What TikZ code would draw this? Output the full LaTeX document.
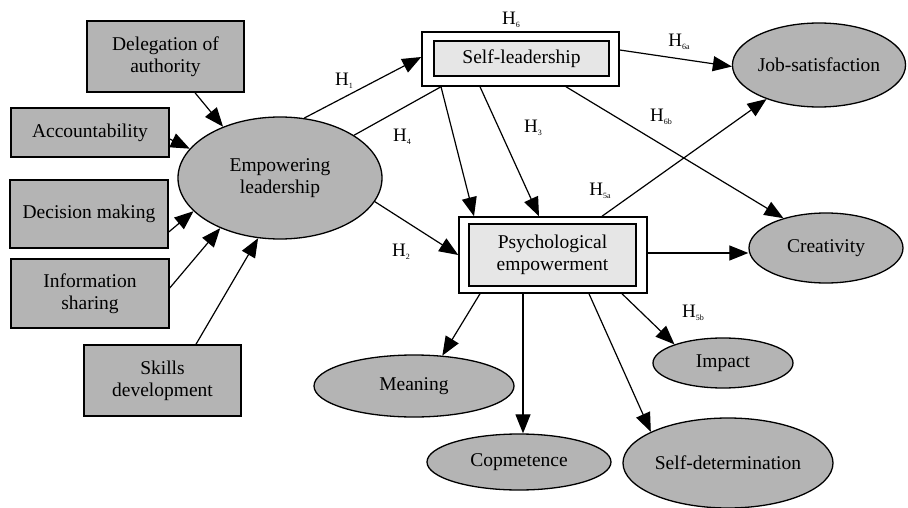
\documentclass[tikz,border=0pt]{standalone}
\usepackage{fontspec}
\setmainfont{Liberation Serif}
\usetikzlibrary{arrows.meta,shapes.geometric}
\definecolor{boxgray}{RGB}{180,180,180}
\definecolor{innergray}{RGB}{230,230,230}
\newcommand{\Hlab}[1]{H\raisebox{-3pt}{\fontsize{8}{8}\selectfont #1}}
\tikzset{
  txt/.style={font=\fontsize{19.5}{22}\selectfont, align=center},
  gbox/.style={txt, draw, line width=1.5pt, fill=boxgray, inner sep=0pt},
  ell/.style={txt, ellipse, draw, line width=1.3pt, fill=boxgray, inner sep=0pt},
  outerbox/.style={draw, line width=1.5pt, fill=white, inner sep=0pt},
  innerbox/.style={txt, draw, line width=1.5pt, fill=innergray, inner sep=0pt},
  conn/.style={line width=1.2pt},
  arr/.style={conn, -{Triangle[length=19pt,width=15pt]}},
  hl/.style={font=\fontsize{19}{19}\selectfont, inner sep=0pt}
}
\begin{document}
\begin{tikzpicture}[x=1pt,y=-1pt]
\useasboundingbox (0,0) rectangle (908,508);
% left boxes
\node[gbox, minimum width=157pt, minimum height=71pt] (DA) at (165.5,56.5) {Delegation of\\authority};
\node[gbox, minimum width=158pt, minimum height=49pt] (AC) at (90,132.5) {Accountability};
\node[gbox, minimum width=158pt, minimum height=68pt] (DM) at (89,214) {Decision making};
\node[gbox, minimum width=158pt, minimum height=69pt] (IS) at (90,293.5) {Information\\sharing};
\node[gbox, minimum width=157pt, minimum height=71pt] (SD0) at (162.5,380.5) {Skills\\development};
% empowering leadership
\node[ell, minimum width=204pt, minimum height=122pt] (EL) at (280,178) {Empowering\\leadership};
% self-leadership
\node[outerbox, minimum width=197pt, minimum height=54pt] (SL) at (520.5,59) {};
\node[innerbox, minimum width=175pt, minimum height=35pt] (SLi) at (521.5,58.5) {Self-leadership};
% psychological empowerment
\node[outerbox, minimum width=188pt, minimum height=76pt] (PE) at (553,255) {};
\node[innerbox, minimum width=167pt, minimum height=62pt] (PEi) at (552.5,255) {Psychological\\empowerment};
% outcomes
\node[ell, minimum width=168pt, minimum height=84pt] (JS) at (819,65) {Job-satisfaction};
\node[ell, minimum width=154pt, minimum height=70pt] (CR) at (826,248) {Creativity};
\node[ell, minimum width=200pt, minimum height=62pt] (ME) at (414,386) {Meaning};
\node[ell, minimum width=184pt, minimum height=56pt] (CO) at (519,462) {Copmetence};
\node[ell, minimum width=210pt, minimum height=90pt] (SDT) at (728,463) {Self-determination};
\node[ell, minimum width=140pt, minimum height=50pt] (IM) at (723,363) {Impact};
% antecedents -> EL
\draw[arr] ([xshift=29.5pt]DA.south) -- (EL.138);
\draw[arr] ([yshift=-6.5pt]AC.east) -- (EL.162);
\draw[arr] ([yshift=-18pt]DM.east) -- (EL.201);
\draw[arr] ([yshift=5.5pt]IS.east) -- (EL.220);
\draw[arr] ([xshift=33.5pt]SD0.north) -- (EL.250);
% EL -> SL, PE
\draw[arr] (EL.68) -- ([yshift=2pt]SL.west);
\draw[conn] ([xshift=-79.5pt]SL.south) -- (EL.30);
\draw[arr] (EL.-14) -- (PE.west);
% SL -> PE
\draw[arr] ([xshift=-79.5pt]SL.south) -- ([xshift=-79pt]PE.north);
\draw[arr] ([xshift=-40.5pt]SL.south) -- ([xshift=-14pt]PE.north);
% SL -> outcomes
\draw[arr] ([yshift=9pt]SL.east) -- (JS.181);
\draw[arr] ([xshift=45.5pt]SL.south) -- (CR.145);
% PE -> outcomes
\draw[arr] ([xshift=49pt]PE.north) -- (JS.213);
\draw[arr] ([yshift=2pt]PE.east) -- ([yshift=-5pt]CR.west);
\draw[arr] ([xshift=-73pt]PE.south) -- (ME.47);
\draw[arr] ([xshift=-30pt]PE.south) -- ([xshift=4pt]CO.north);
\draw[arr] ([xshift=36pt]PE.south) -- (SDT.158);
\draw[arr] ([xshift=69pt]PE.south) -- (IM.159);
% labels
\node[hl] (h6) at (511,20) {\Hlab{6}};
\node[hl] (h1) at (344,81) {\Hlab{1}};
\node[hl] (h4) at (402,137) {\Hlab{4}};
\node[hl] (h2) at (401,252) {\Hlab{2}};
\node[hl] (h3) at (533,128) {\Hlab{3}};
\node[hl] (h6a) at (679,42) {\Hlab{6a}};
\node[hl] (h6b) at (661,117) {\Hlab{6b}};
\node[hl] (h5a) at (600,191) {\Hlab{5a}};
\node[hl] (h5b) at (693,313) {\Hlab{5b}};
\end{tikzpicture}
\end{document}
